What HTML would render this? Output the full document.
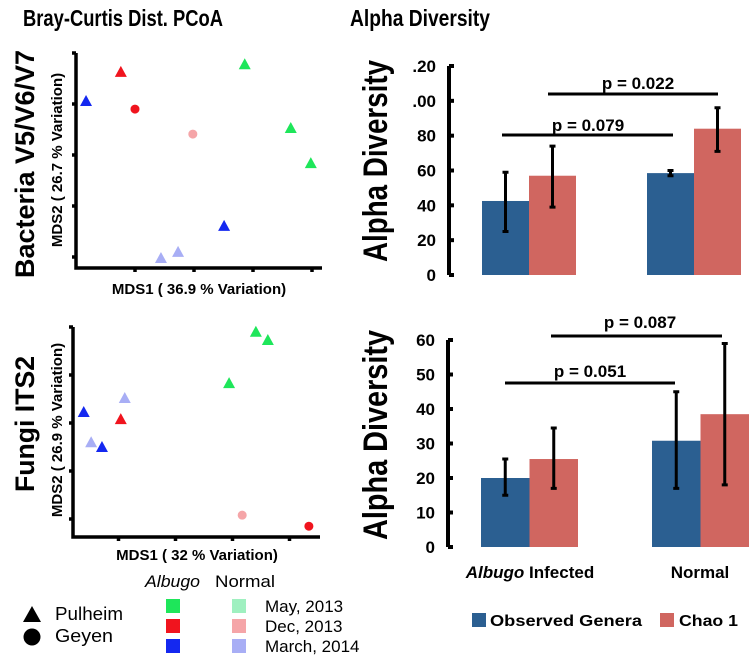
<!DOCTYPE html>
<html><head><meta charset="utf-8"><style>
html,body{margin:0;padding:0;background:#fff}
svg{display:block;font-family:"Liberation Sans",sans-serif}
</style></head><body>
<svg id="fig" width="756" height="659" viewBox="0 0 756 659" xmlns="http://www.w3.org/2000/svg">
<text x="23" y="26" font-size="23" font-weight="bold" textLength="200" lengthAdjust="spacingAndGlyphs">Bray-Curtis Dist. PCoA</text>
<text x="350" y="26" font-size="23" font-weight="bold" textLength="140" lengthAdjust="spacingAndGlyphs">Alpha Diversity</text>
<text transform="translate(34,164) rotate(-90)" text-anchor="middle" font-size="27" font-weight="bold" textLength="228" lengthAdjust="spacingAndGlyphs">Bacteria V5/V6/V7</text>
<text transform="translate(34,424) rotate(-90)" text-anchor="middle" font-size="27" font-weight="bold" textLength="136" lengthAdjust="spacingAndGlyphs">Fungi ITS2</text>
<g id="p1"></g>
<g id="p2"></g>
<g id="b1"></g>
<g id="b2"></g>
<g>
<text x="145" y="587" font-size="17" font-style="italic" textLength="55" lengthAdjust="spacingAndGlyphs">Albugo</text>
<text x="215" y="587" font-size="17" textLength="60" lengthAdjust="spacingAndGlyphs">Normal</text>
<rect x="166" y="599" width="14" height="14" fill="#1ee65a"/><rect x="166" y="619" width="14" height="14" fill="#f0141e"/><rect x="166" y="639" width="14" height="14" fill="#1428f0"/>
<rect x="232" y="599" width="14" height="14" fill="#9ff0c0"/><rect x="232" y="619" width="14" height="14" fill="#f5a5a8"/><rect x="232" y="639" width="14" height="14" fill="#a8aef5"/>
<text x="265" y="612" font-size="17">May, 2013</text><text x="265" y="632" font-size="17">Dec, 2013</text><text x="265" y="652" font-size="17">March, 2014</text>
<polygon points="23,622 32,606 41,622" fill="#000"/><circle cx="32" cy="637" r="8.5" fill="#000"/>
<text x="55" y="620" font-size="18" textLength="68" lengthAdjust="spacingAndGlyphs">Pulheim</text><text x="55" y="642" font-size="18" textLength="58" lengthAdjust="spacingAndGlyphs">Geyen</text>
</g>
<g>
<rect x="472" y="613" width="14" height="14" fill="#2b5f91"/><text x="490" y="626" font-size="16" font-weight="bold" textLength="152" lengthAdjust="spacingAndGlyphs">Observed Genera</text>
<rect x="660" y="613" width="14" height="14" fill="#d06660"/><text x="679" y="626" font-size="16" font-weight="bold" textLength="59" lengthAdjust="spacingAndGlyphs">Chao 1</text>
</g>
</svg>
<script>
// PCoA data (arbitrary MDS units)
const bacX = [0.17,0.76,1.0,1.98,2.86,3.64,3.98,2.51,1.44,1.73];
const bacY = [3.06,3.63,2.90,2.41,3.78,2.53,1.84,0.61,-0.02,0.10];
const bacShape = ['t','t','c','c','t','t','t','t','t','t'];
const bacColor = ['#1428f0','#f0141e','#f0141e','#f5a5a8','#1ee65a','#1ee65a','#1ee65a','#1428f0','#a8aef5','#a8aef5'];
const funX = [0.39,1.11,1.04,0.52,0.71,2.94,3.41,3.62,3.17,4.34];
const funY = [2.23,2.52,2.08,1.60,1.50,2.83,3.90,3.73,0.08,-0.15];
const funShape = ['t','t','t','t','t','t','t','t','c','c'];
const funColor = ['#1428f0','#a8aef5','#f0141e','#a8aef5','#1428f0','#1ee65a','#1ee65a','#1ee65a','#f5a5a8','#f0141e'];
// Alpha diversity data
const groups = ['Albugo Infected','Normal'];
const bacObs = [42.5,58.5], bacObsLo=[25,57], bacObsHi=[59,60];
const bacChao = [57,84], bacChaoLo=[39,71], bacChaoHi=[74,96];
const bacTicks = ['0','20','40','60','80','.00','.20'];
const funObs = [20,30.8], funObsLo=[15,17], funObsHi=[25.5,45];
const funChao = [25.5,38.5], funChaoLo=[17,18], funChaoHi=[34.5,59];
const funTicks = ['0','10','20','30','40','50','60'];
const pBac = ['p = 0.079','p = 0.022'];
const pFun = ['p = 0.051','p = 0.087'];

const NS='http://www.w3.org/2000/svg';
function mk(p,t,a){const e=document.createElementNS(NS,t);for(const k in a)e.setAttribute(k,a[k]);p.appendChild(e);return e;}

function pcoa(g,xs,ys,sh,co,c){
  const X=v=>c.x0+v*c.dx, Y=v=>c.y0-v*c.dy;
  mk(g,'path',{d:`M${c.ax} ${c.top} V${c.bot} H${c.right}`,stroke:'#000','stroke-width':3.5,fill:'none'});
  for(let i=0;i<=4;i++){mk(g,'line',{x1:c.ax-4,x2:c.ax,y1:Y(i),y2:Y(i),stroke:'#000','stroke-width':3.5});}
  for(let i=1;i<=4;i++){mk(g,'line',{x1:X(i),x2:X(i),y1:c.bot,y2:c.bot+4,stroke:'#000','stroke-width':3.5});}
  xs.forEach((v,i)=>{
    const px=X(v),py=Y(ys[i]);let e;
    if(sh[i]==='t') e=mk(g,'polygon',{points:`${px-6},${py+5} ${px},${py-6} ${px+6},${py+5}`,fill:co[i]});
    else e=mk(g,'circle',{cx:px,cy:py,r:4.5,fill:co[i]});
    
    
  });
  let t=mk(g,'text',{x:c.xlx,y:c.xly,'text-anchor':'middle','font-size':15,'font-weight':'bold'});t.textContent=c.xl;
  
  
  t=mk(g,'text',{transform:`translate(62,${c.yly}) rotate(-90)`,'text-anchor':'middle','font-size':15,'font-weight':'bold'});t.textContent=c.yl;
  
  
}
pcoa(document.getElementById('p1'),bacX,bacY,bacShape,bacColor,{x0:76,dx:59,y0:257,dy:51,ax:76,top:53,bot:268,right:322,xl:'MDS1 ( 36.9 % Variation)',xlx:199,xly:294,yl:'MDS2 ( 26.7 % Variation)',yly:160});
pcoa(document.getElementById('p2'),funX,funY,funShape,funColor,{x0:61.5,dx:57,y0:519,dy:48,ax:73,top:327,bot:537,right:320,xl:'MDS1 ( 32 % Variation)',xlx:197,xly:560,yl:'MDS2 ( 26.9 % Variation)',yly:430});

function bars(g,obs,oLo,oHi,ch,cLo,cHi,ticks,ps,c){
  const Y=v=>c.y0-v*c.k;
  mk(g,'line',{x1:c.ax,x2:c.ax,y1:Y(c.max),y2:Y(0),stroke:'#000','stroke-width':4});
  ticks.forEach((tk,i)=>{const v=i*c.step;
    mk(g,'line',{x1:c.ax,x2:c.ax+5,y1:Y(v),y2:Y(v),stroke:'#000','stroke-width':4});
    const t=mk(g,'text',{x:c.ax-13,y:Y(v)+6,'text-anchor':'end','font-size':17,'font-weight':'bold'});t.textContent=tk;
    
    });
  const yt=mk(g,'text',{transform:`translate(387,${c.ylc}) rotate(-90)`,'text-anchor':'middle','font-size':34,'font-weight':'bold',textLength:c.yll,lengthAdjust:'spacingAndGlyphs'});yt.textContent='Alpha Diversity';
  
  
  const w=c.bw;
  obs.forEach((v,i)=>{
    const x=c.gx[i];
    const b=mk(g,'rect',{x:x,y:Y(v),width:w,height:Y(0)-Y(v),fill:'#2b5f91'});
    
    
    const r=mk(g,'rect',{x:x+w,y:Y(ch[i]),width:w,height:Y(0)-Y(ch[i]),fill:'#d06660'});
    
    
    [[x+w*0.5,oLo[i],oHi[i]],[x+w*1.5,cLo[i],cHi[i]]].forEach(([cx,lo,hi])=>{
      const e=mk(g,'path',{d:`M${cx} ${Y(lo)} V${Y(hi)} M${cx-3} ${Y(lo)} H${cx+3} M${cx-3} ${Y(hi)} H${cx+3}`,stroke:'#000','stroke-width':3,fill:'none'});
      
      
    });
  });
  c.sig.forEach((s,i)=>{
    mk(g,'line',{x1:s[0],x2:s[1],y1:s[2],y2:s[2],stroke:'#000','stroke-width':3});
    const t=mk(g,'text',{x:s[3],y:s[4],'text-anchor':'middle','font-size':17,'font-weight':'bold'});t.textContent=ps[i];
    
    
  });
}
bars(document.getElementById('b1'),bacObs,bacObsLo,bacObsHi,bacChao,bacChaoLo,bacChaoHi,bacTicks,pBac,
 {y0:275,k:209/120,max:120,step:20,ax:449,bw:47,gx:[482,647],ylc:161,yll:202,sig:[[502,673,135,588,131],[548,718,94,638,89]]});
bars(document.getElementById('b2'),funObs,funObsLo,funObsHi,funChao,funChaoLo,funChaoHi,funTicks,pFun,
 {y0:547,k:207/60,max:60,step:10,ax:448,bw:48.5,gx:[481,652],ylc:435,yll:210,sig:[[505,675,383,590,377],[551,722,336,640,328]]});
const g2=document.getElementById('b2');
let t=mk(g2,'text',{x:530,y:578,'text-anchor':'middle','font-size':17,'font-weight':'bold'});
t.innerHTML='<tspan font-style="italic">Albugo</tspan> Infected';


t=mk(g2,'text',{x:700,y:578,'text-anchor':'middle','font-size':17,'font-weight':'bold'});t.textContent='Normal';


</script>
</body></html>
